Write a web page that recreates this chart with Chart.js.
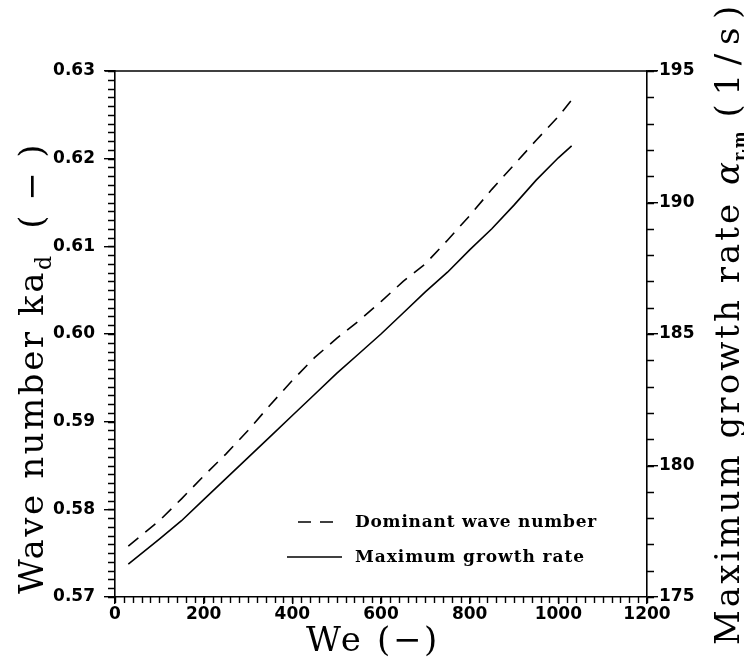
<!DOCTYPE html>
<html>
<head>
<meta charset="utf-8">
<script src="https://cdn.jsdelivr.net/npm/chart.js@4.4.1/dist/chart.umd.min.js"></script>
<style>
    html, body { margin: 0; padding: 0; background: #fff; }
    canvas { display: block; }
</style>
</head>
<body>
<canvas id="growth-chart" width="744" height="661"></canvas>
<script>
// Data
const weberNumbers = [30, 100, 150, 200, 250, 300, 350, 400, 450, 500, 550, 600, 650, 700, 750, 800, 850, 900, 950, 1000, 1030];
const dominantWaveNumber = [0.5758, 0.5787, 0.5812, 0.5838, 0.5863, 0.5890, 0.5919, 0.5947, 0.5973, 0.5995, 0.6015, 0.6037, 0.6060, 0.6080, 0.6107, 0.6135, 0.6165, 0.6193, 0.6221, 0.6248, 0.6267];
const maxGrowthRate = [176.25, 177.2, 177.9, 178.7, 179.5, 180.3, 181.1, 181.9, 182.7, 183.5, 184.25, 185.0, 185.8, 186.6, 187.35, 188.2, 189.0, 189.9, 190.85, 191.7, 192.15];

// Tick labels
const weTicks = [0, 200, 400, 600, 800, 1000, 1200];
const waveTicks = [0.57, 0.58, 0.59, 0.60, 0.61, 0.62, 0.63];
const rateTicks = [175, 180, 185, 190, 195];

const ink = '#000000';
const tickFont = { family: 'DejaVu Sans', weight: 'bold', size: 17 };
const titleFamily = '"DejaVu Serif", serif';

/**
 * Set letter spacing so a string fills the given width
 */
function fitSpacing(ctx, text, width) {
    ctx.letterSpacing = '0px';
    const w0 = ctx.measureText(text).width;
    const gap = (width - w0) / text.length;
    ctx.letterSpacing = gap.toFixed(2) + 'px';
}

/**
 * Minor ticks and top frame line
 */
const minorTicks = {
    id: 'minorTicks',
    afterDraw(chart) {
        const { ctx, chartArea: a, scales } = chart;
        ctx.save();
        ctx.strokeStyle = ink;
        ctx.lineWidth = 1.4;
        ctx.beginPath();
        for (let i = 0; i <= 60; i++) {
            const px = Math.round(scales.x.getPixelForValue(i * 20)) + 0.5;
            ctx.moveTo(px, a.bottom);
            ctx.lineTo(px, a.bottom + 6);
        }
        for (let i = 0; i <= 60; i++) {
            const py = Math.round(scales.y.getPixelForValue(0.57 + i * 0.001)) + 0.5;
            ctx.moveTo(a.left, py);
            ctx.lineTo(a.left - 7, py);
        }
        for (let i = 0; i <= 20; i++) {
            const py = Math.round(scales.y1.getPixelForValue(175 + i)) + 0.5;
            ctx.moveTo(a.right, py);
            ctx.lineTo(a.right + 7, py);
        }
        ctx.stroke();
        ctx.lineWidth = 1.6;
        ctx.beginPath();
        ctx.moveTo(a.left - 10, a.top);
        ctx.lineTo(a.right + 10, a.top);
        ctx.stroke();
        ctx.restore();
    }
};

/**
 * Axis titles and legend drawn as text
 */
const axisTitles = {
    id: 'axisTitles',
    afterDraw(chart) {
        const { ctx } = chart;
        ctx.save();
        ctx.fillStyle = ink;
        ctx.textBaseline = 'alphabetic';
        ctx.textAlign = 'left';

        // Bottom title
        ctx.font = '34px ' + titleFamily;
        fitSpacing(ctx, 'We (\u2212)', 134);
        ctx.fillText('We (\u2212)', 306, 651);

        // Left title, rotated
        ctx.save();
        ctx.translate(43, 594);
        ctx.rotate(-Math.PI / 2);
        ctx.font = '34px ' + titleFamily;
        fitSpacing(ctx, 'Wave number ka', 324);
        ctx.fillText('Wave number ka', 0, 0);
        ctx.font = '22px ' + titleFamily;
        ctx.letterSpacing = '0px';
        ctx.fillText('d', 324, 8);
        ctx.font = '34px ' + titleFamily;
        fitSpacing(ctx, ' (\u2212)', 124);
        ctx.fillText(' (\u2212)', 340, 0);
        ctx.restore();

        // Right title, rotated
        ctx.save();
        ctx.translate(739, 645);
        ctx.rotate(-Math.PI / 2);
        ctx.font = '34px ' + titleFamily;
        fitSpacing(ctx, 'Maximum growth rate ', 458);
        ctx.fillText('Maximum growth rate ', 0, 0);
        ctx.font = 'italic 34px ' + titleFamily;
        ctx.letterSpacing = '0px';
        ctx.fillText('\u03b1', 460, 0);
        ctx.font = 'bold 16px ' + titleFamily;
        ctx.fillText('r,m', 484, 6);
        ctx.font = '34px ' + titleFamily;
        fitSpacing(ctx, ' (1/s)', 140);
        ctx.fillText(' (1/s)', 508, 0);
        ctx.restore();

        // Legend
        const ds = chart.data.datasets;
        ctx.font = 'bold 17px ' + titleFamily;
        ctx.textBaseline = 'middle';
        const rows = [
            { y: 522, x0: 298, x1: 335 },
            { y: 557, x0: 287, x1: 342 }
        ];
        rows.forEach((row, i) => {
            ctx.strokeStyle = ds[i].borderColor;
            ctx.lineWidth = ds[i].borderWidth;
            ctx.setLineDash(ds[i].borderDash || []);
            ctx.beginPath();
            ctx.moveTo(row.x0, row.y);
            ctx.lineTo(row.x1, row.y);
            ctx.stroke();
            ctx.setLineDash([]);
            const label = ds[i].label;
            fitSpacing(ctx, label, i === 0 ? 242 : 230);
            ctx.fillText(label, 355, row.y + 1);
        });
        ctx.restore();
    }
};

function makeTicks(values) {
    return scale => {
        scale.ticks = values.map(v => ({ value: v }));
    };
}

const ctx = document.getElementById('growth-chart');

new Chart(ctx, {
    type: 'line',
    data: {
        datasets: [{
            label: 'Dominant wave number',
            data: weberNumbers.map((we, i) => ({ x: we, y: dominantWaveNumber[i] })),
            yAxisID: 'y',
            borderColor: ink,
            borderWidth: 1.6,
            borderDash: [13, 9],
            pointRadius: 0,
            fill: false,
            tension: 0
        }, {
            label: 'Maximum growth rate',
            data: weberNumbers.map((we, i) => ({ x: we, y: maxGrowthRate[i] })),
            yAxisID: 'y1',
            borderColor: ink,
            borderWidth: 1.6,
            pointRadius: 0,
            fill: false,
            tension: 0
        }]
    },
    options: {
        responsive: false,
        devicePixelRatio: 1,
        animation: false,
        layout: {
            padding: { top: 71, left: 0, right: 0, bottom: 0 }
        },
        plugins: {
            legend: { display: false },
            tooltip: { enabled: false }
        },
        scales: {
            x: {
                type: 'linear',
                position: 'bottom',
                min: 0,
                max: 1200,
                afterBuildTicks: makeTicks(weTicks),
                afterFit: scale => { scale.height = 64; },
                border: { display: true, color: ink, width: 1.6 },
                grid: { drawOnChartArea: false, color: ink, lineWidth: 1.4, tickLength: 7 },
                ticks: {
                    color: ink,
                    font: tickFont,
                    padding: 0,
                    maxRotation: 0,
                    callback: value => String(value)
                }
            },
            y: {
                type: 'linear',
                position: 'left',
                min: 0.57,
                max: 0.63,
                afterBuildTicks: makeTicks(waveTicks),
                afterFit: scale => { scale.width = 115; },
                border: { display: true, color: ink, width: 1.6 },
                grid: { drawOnChartArea: false, color: ink, lineWidth: 1.4, tickLength: 11 },
                ticks: {
                    color: ink,
                    font: tickFont,
                    padding: 9,
                    callback: value => value.toFixed(2)
                }
            },
            y1: {
                type: 'linear',
                position: 'right',
                min: 175,
                max: 195,
                afterBuildTicks: makeTicks(rateTicks),
                afterFit: scale => { scale.width = 97; },
                border: { display: true, color: ink, width: 1.6 },
                grid: { drawOnChartArea: false, color: ink, lineWidth: 1.4, tickLength: 11 },
                ticks: {
                    color: ink,
                    font: tickFont,
                    padding: 1,
                    callback: value => String(value)
                }
            }
        }
    },
    plugins: [minorTicks, axisTitles]
});
</script>
</body>
</html>
